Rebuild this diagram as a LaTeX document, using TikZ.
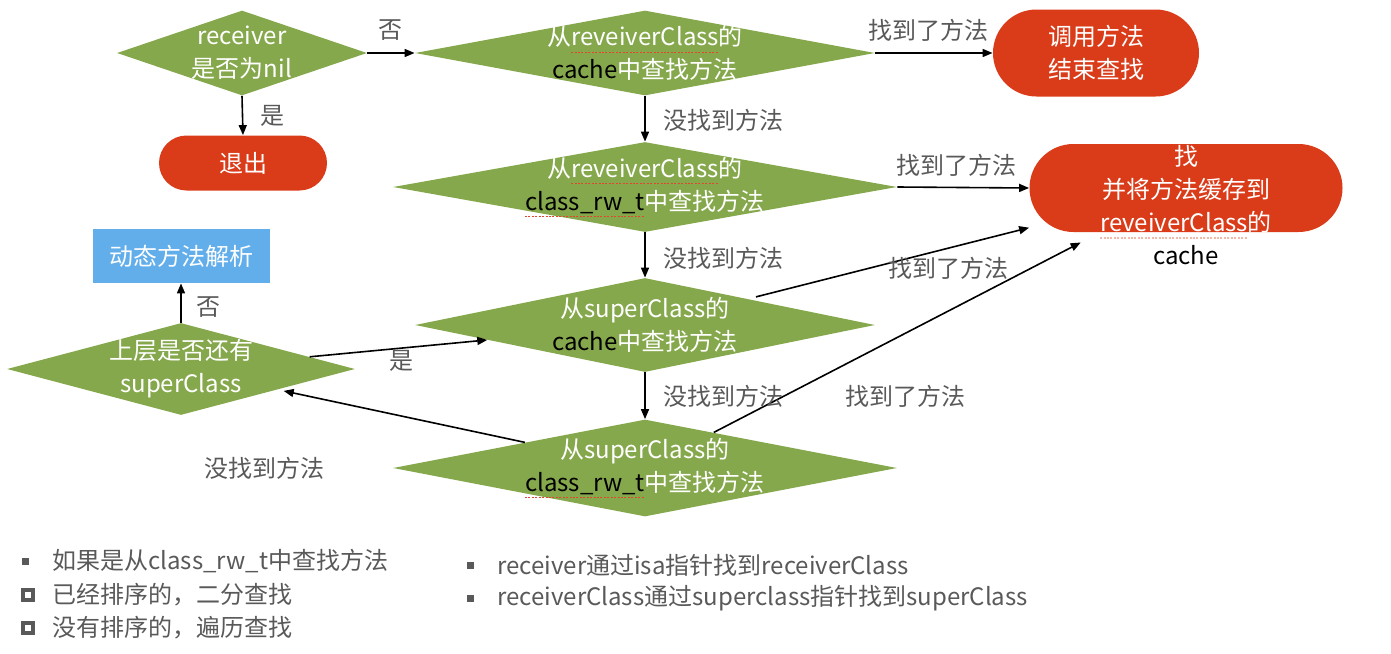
\documentclass[tikz,border=0pt]{standalone}
\usepackage{fontspec}
\usepackage{xcolor}
\usepackage{tikz}
\usetikzlibrary{shapes.geometric,arrows.meta}
\setmainfont{Noto Sans CJK SC}
\definecolor{flowgreen}{HTML}{86A84C}
\definecolor{flowred}{HTML}{DA3B19}
\definecolor{flowblue}{HTML}{62AEEA}
\definecolor{labelgray}{HTML}{595959}
\definecolor{spellred}{HTML}{E0472C}
\definecolor{spellpale}{HTML}{F2B8AA}
\newsavebox\spellbox
\newcommand\spellmark[2][spellred]{\sbox\spellbox{#2}\rlap{\textcolor{#1}{\raisebox{-0.55ex}{\hbox to \wd\spellbox{\xleaders\hbox{\rule{1pt}{0.6pt}\kern0.7pt}\hfill}}}}\usebox\spellbox}

\begin{document}
\begin{tikzpicture}[
x=0.5pt,y=-0.5pt,
font=\fontsize{12}{16.5}\selectfont,
decision/.style={diamond,fill=flowgreen,inner sep=0pt},
flowtext/.style={text=white,align=center},
terminal/.style={rectangle,fill=flowred,inner sep=0pt},
caption/.style={text=labelgray},
arrow/.style={-{Triangle[length=5pt,width=4pt]},line width=0.8pt}
]
\useasboundingbox (0,0) rectangle (1391,653);
% decisions
\node[decision,minimum width=125pt,minimum height=42.5pt,
  label={[flowtext,name=nilText]center:{receiver\\是否为nil}}] (nil) at (242,53) {};
\node[decision,minimum width=230pt,minimum height=42.5pt,
  label={[flowtext,name=cacheAText]center:{从\spellmark{reveiverClass}的\\\textcolor{black}{cache}中查找方法}}] (cacheA) at (645,53) {};
\node[decision,minimum width=252pt,minimum height=45pt,
  label={[flowtext,name=rwAText]center:{从\spellmark{reveiverClass}的\\\textcolor{black}{\spellmark{class\_rw\_t}}中查找方法}}] (rwA) at (645,187) {};
\node[decision,minimum width=230pt,minimum height=47pt,
  label={[flowtext,name=cacheBText]center:{从superClass的\\\textcolor{black}{cache}中查找方法}}] (cacheB) at (645,325) {};
\node[decision,minimum width=252pt,minimum height=48.5pt,
  label={[flowtext,name=rwBText]center:{从superClass的\\\textcolor{black}{\spellmark{class\_rw\_t}}中查找方法}}] (rwB) at (645,468) {};
\node[decision,minimum width=174pt,minimum height=46pt,
  label={[flowtext,name=hasSuperText]center:{上层是否还有\\superClass}}] (hasSuper) at (181,369) {};
% ends
\node[terminal,rounded corners=13.75pt,minimum width=84pt,minimum height=27.5pt,flowtext] (exit) at (243,163) {退出};
\node[terminal,rounded corners=21.75pt,minimum width=103pt,minimum height=43.5pt,flowtext] (call) at (1096,53) {调用方法\\结束查找};
\node[terminal,rounded corners=22pt,minimum width=156.5pt,minimum height=44pt] (store) at (1186,188) {};
\node[flowtext] (storeText) at (1186,205) {找\\并将方法缓存到\\\spellmark[spellpale]{reveiverClass}的\\\textcolor{black}{cache}};
\node[rectangle,fill=flowblue,minimum width=88.5pt,minimum height=27pt,flowtext] (resolve) at (181,256) {动态方法解析};
% connectors
\draw[arrow] (nil.east) -- (cacheA.west);
\draw[arrow] (nil.south) -- (exit.north);
\draw[arrow] (cacheA.east) -- (call.west);
\draw[arrow] (cacheA.south) -- (rwA.north);
\draw[arrow] (rwA.east) -- (store.west);
\draw[arrow] (rwA.south) -- (cacheB.north);
\draw[arrow,shorten <=4pt] (cacheB) -- (store);
\draw[arrow] (cacheB.south) -- (rwB.north);
\draw[arrow,shorten >=11pt] (rwB) -- (store);
\draw[arrow,shorten >=3pt] (rwB) -- (hasSuper);
\draw[arrow] (hasSuper) -- (cacheB);
\draw[arrow] (hasSuper.north) -- (resolve.south);
% labels
\node[caption] (noA) at (390,30) {否};
\node[caption] (yesA) at (272,116) {是};
\node[caption] (foundA) at (928,30) {找到了方法};
\node[caption] (missA) at (723,120) {没找到方法};
\node[caption] (foundB) at (956,165) {找到了方法};
\node[caption] (missB) at (723,258) {没找到方法};
\node[caption] (foundC) at (948,268) {找到了方法};
\node[caption] (missC) at (723,396) {没找到方法};
\node[caption] (foundD) at (905,396) {找到了方法};
\node[caption] (missD) at (264,468) {没找到方法};
\node[caption] (yesB) at (401,361) {是};
\node[caption] (noB) at (208,307) {否};
% notes
\node[fill=labelgray,minimum size=3.5pt,inner sep=0pt] (dotA) at (25,561) {};
\node[caption,anchor=west,inner sep=0pt] (itemA) at (52,561) {如果是从class\_rw\_t中查找方法};
\node[draw=labelgray,line width=1.8pt,minimum size=5.2pt,inner sep=0pt] (boxA) at (28,595) {};
\node[caption,anchor=west,inner sep=0pt] (itemB) at (52,595) {已经排序的，二分查找};
\node[draw=labelgray,line width=1.8pt,minimum size=5.2pt,inner sep=0pt] (boxB) at (28,628) {};
\node[caption,anchor=west,inner sep=0pt] (itemC) at (52,628) {没有排序的，遍历查找};
\node[fill=labelgray,minimum size=3.5pt,inner sep=0pt] (dotB) at (470,565) {};
\node[caption,anchor=west,inner sep=0pt] (itemD) at (497,565) {receiver通过isa指针找到receiverClass};
\node[fill=labelgray,minimum size=3.5pt,inner sep=0pt] (dotC) at (470,598) {};
\node[caption,anchor=west,inner sep=0pt] (itemE) at (497,598) {receiverClass通过superclass指针找到superClass};
\end{tikzpicture}
\end{document}
